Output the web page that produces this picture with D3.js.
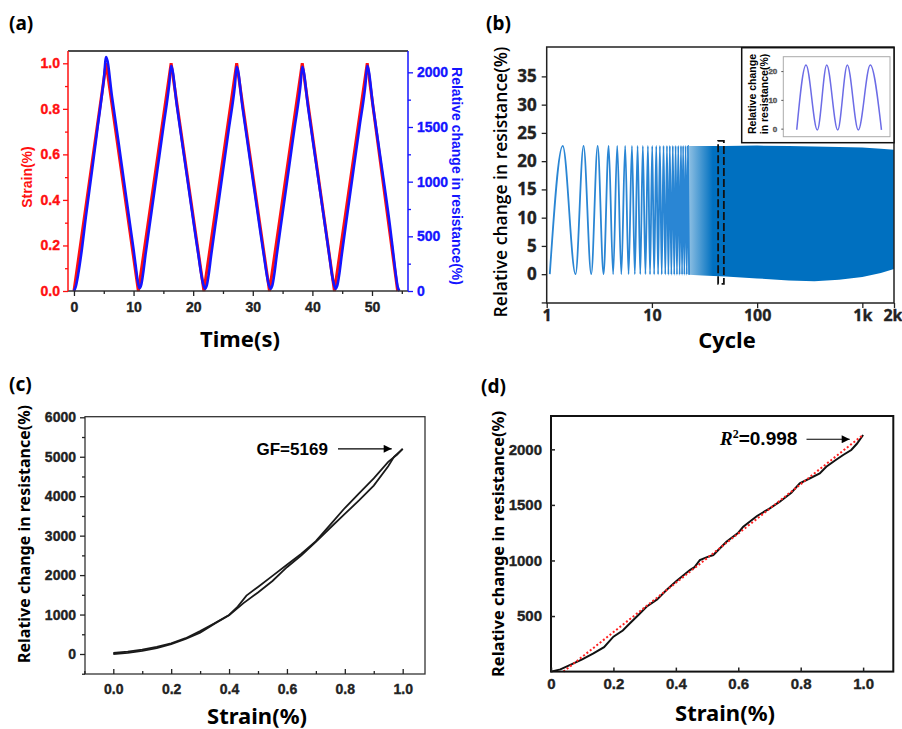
<!DOCTYPE html>
<html>
<head>
<meta charset="utf-8">
<script src="https://cdn.jsdelivr.net/npm/d3@7"></script>
<style>
body { margin: 0; background: #fff; }
svg { display: block; }
</style>
</head>
<body>
<svg id="fig"></svg>
<script>
// (a) strain and resistance over time
const strainTime = [0, 5.4, 10.8, 16.3, 21.8, 27.3, 32.8, 38.3, 43.7, 49.2, 54.3];
const strainVal  = [0, 1, 0, 1, 0, 1, 0, 1, 0, 1, 0];
const resTime = [0, 0.3, 0.7, 1.2, 2, 3, 4, 5, 5.4,
  6.4, 7.4, 8.4, 9.4, 10.0, 10.4, 10.7, 11.0,
  11.3, 11.6, 12.0, 13.0, 14.0, 15.0, 16.0, 16.3,
  17.3, 18.3, 19.3, 20.3, 20.9, 21.3, 21.65, 22.0,
  22.3, 22.6, 23.0, 24.0, 25.0, 26.0, 27.0, 27.3,
  28.3, 29.3, 30.3, 31.3, 31.9, 32.3, 32.65, 33.0,
  33.3, 33.6, 34.0, 35.0, 36.0, 37.0, 38.0, 38.3,
  39.3, 40.3, 41.3, 42.3, 42.9, 43.25, 43.6, 43.9,
  44.2, 44.5, 44.9, 45.9, 46.9, 47.9, 48.9, 49.2,
  50.2, 51.2, 52.2, 53.0, 53.6, 54.0, 54.3, 54.6];
const resVal = [0, 40, 150, 330, 680, 1090, 1510, 1930, 2140,
  1770, 1390, 1000, 610, 380, 210, 90, 25,
  60, 160, 330, 720, 1110, 1500, 1900, 2060,
  1680, 1300, 920, 540, 320, 170, 70, 20,
  55, 150, 320, 710, 1100, 1490, 1880, 2050,
  1670, 1290, 910, 530, 310, 165, 65, 20,
  55, 150, 320, 710, 1100, 1490, 1880, 2050,
  1670, 1290, 910, 530, 300, 160, 65, 20,
  55, 150, 320, 720, 1110, 1500, 1890, 2060,
  1680, 1300, 920, 600, 330, 150, 40, 0];
const timeTicks = [0, 10, 20, 30, 40, 50];
const strainTicks = [0, 0.2, 0.4, 0.6, 0.8, 1.0];
const resTicksA = [0, 500, 1000, 1500, 2000];

// (b) cycling test, log cycle axis
const cycleX = [1.07, 1.42, 1.88, 2.24, 2.65, 3.05, 3.47, 3.88, 4.28, 4.68, 5.12, 5.57, 6.0, 6.46,
  6.88, 7.31, 7.75, 8.2, 8.68, 9.16, 9.6, 10.07, 10.5, 11.0, 11.45, 11.9, 12.4, 12.9, 13.4, 13.9,
  14.35, 14.8, 15.3, 15.8, 16.3, 16.8, 17.3, 17.8, 18.35, 18.9, 19.35, 19.8, 20.35, 20.9, 21.45, 22.0, 22.55];
const cycleY = [0, 22.7, 0, 22.7, 0, 22.7, 0, 22.7, 0, 22.7, 0, 22.7, 0, 22.7,
  0, 22.7, 0, 22.7, 0, 22.7, -0.05, 22.7, -0.05, 22.7, -0.05, 22.7, -0.05, 22.7, -0.05, 22.7,
  -0.1, 22.7, -0.1, 22.7, -0.1, 22.7, -0.1, 22.7, -0.1, 22.7, -0.1, 22.7, -0.1, 22.7, -0.1, 22.7, -0.1];
const bandCycle  = [22.55, 30, 50, 100, 200, 350, 600, 1000, 1500, 2000];
const bandTop    = [22.7, 22.7, 22.7, 22.75, 22.7, 22.6, 22.5, 22.4, 22.2, 22.0];
const bandBottom = [-0.1, -0.25, -0.4, -0.75, -1.1, -1.25, -1.0, -0.5, 0.2, 0.9];
const cycleTicks = [1, 10, 100, 1000, 2000];
const cycleTickLabels = ['1', '10', '100', '1k', '2k'];
const resTicksB = [-5, 0, 5, 10, 15, 20, 25, 30, 35];
const zoomBox = { x0: 42.6, x1: 48.3, y0: -1.7, y1: 23.6 };
// inset (zoomed cycles)
const insetX = [12.6, 21.3, 31.9, 40.7, 51.0, 60.0, 70.3, 81.5, 92.0];
const insetY = [-0.4, 22.1, -0.5, 22.1, -0.5, 22.1, -0.5, 22.1, -0.4];
const insetTicks = [0, 10, 20];

// (c) hysteresis loop
const loadStrain = [0, 0.05, 0.1, 0.15, 0.2, 0.25, 0.3, 0.35, 0.4, 0.43, 0.46, 0.5, 0.55, 0.6, 0.65, 0.7, 0.75, 0.8, 0.85, 0.9, 0.95, 0.98, 1.0];
const loadRes    = [30, 60, 110, 180, 270, 400, 580, 780, 990, 1200, 1480, 1700, 1980, 2260, 2540, 2860, 3280, 3700, 4080, 4450, 4870, 5050, 5200];
const unloadStrain = [1.0, 0.97, 0.95, 0.9, 0.85, 0.8, 0.75, 0.7, 0.65, 0.6, 0.55, 0.5, 0.45, 0.4, 0.35, 0.3, 0.25, 0.2, 0.15, 0.1, 0.05, 0];
const unloadRes    = [5200, 5000, 4760, 4270, 3900, 3550, 3200, 2840, 2500, 2200, 1850, 1560, 1290, 980, 770, 540, 380, 250, 150, 80, 30, 0];
const strainTicksC = [0, 0.2, 0.4, 0.6, 0.8, 1.0];
const resTicksC = [0, 1000, 2000, 3000, 4000, 5000, 6000];

// (d) linear fit
const strainD = [0, 0.03, 0.06, 0.1, 0.136, 0.17, 0.2, 0.23, 0.253, 0.28, 0.306, 0.34, 0.37, 0.4, 0.445, 0.46, 0.477, 0.5, 0.52, 0.562, 0.6, 0.616, 0.66, 0.701, 0.733, 0.77, 0.797, 0.83, 0.861, 0.882, 0.91, 0.936, 0.962, 0.98, 1.0];
const resD    = [0, 20, 59, 110, 165, 220, 314, 370, 435, 510, 584, 650, 734, 810, 914, 940, 1004, 1030, 1049, 1169, 1250, 1304, 1400, 1469, 1529, 1610, 1695, 1740, 1784, 1844, 1900, 1949, 1994, 2050, 2129];
const fitStrain = [0.04, 1.0];
const fitRes    = [0, 2130];
const strainTicksD = [0, 0.2, 0.4, 0.6, 0.8, 1.0];
const resTicksD = [500, 1000, 1500, 2000];

const SANS = '"Liberation Sans", Arial, sans-serif';
const TITLE = '"Noto Sans", "Open Sans", sans-serif';
const OPEN = '"Open Sans", "Noto Sans", sans-serif';

const svg = d3.select('#fig')
  .attr('width', 902)
  .attr('height', 729)
  .style('background', '#fff');

svg.append('defs').append('marker')
  .attr('id', 'arrow')
  .attr('viewBox', '0 0 10 10')
  .attr('refX', 10).attr('refY', 5)
  .attr('markerWidth', 9).attr('markerHeight', 8)
  .attr('markerUnits', 'userSpaceOnUse')
  .attr('orient', 'auto')
  .append('path')
  .attr('d', 'M0,0 L10,5 L0,10 Z')
  .attr('fill', '#000');

function styleAxis(g, color, size, family, weight, lw) {
  g.select('.domain').remove();
  g.selectAll('line').attr('stroke', color).attr('stroke-width', lw || 1.3);
  g.selectAll('text')
    .attr('fill', color)
    .attr('stroke', color)
    .attr('stroke-width', 0.35)
    .style('font-family', family)
    .style('font-size', size + 'px')
    .style('font-weight', weight);
}

function panelLabel(txt, x, y) {
  svg.append('text').attr('x', x).attr('y', y)
    .style('font-family', TITLE).style('font-size', '19px').style('font-weight', 'bold')
    .text(txt);
}

function minor(ticks, step) {
  const out = [];
  for (let i = 0; i < ticks.length - 1; i++) out.push(ticks[i] + step);
  return out;
}

// ---------------- (a) ----------------
{
  const x = d3.scaleLinear().domain([-1, 56.04]).range([68, 408]);
  const yL = d3.scaleLinear().domain([0, 1.054]).range([291, 51]);
  const yR = d3.scaleLinear().domain([0, 2195]).range([291, 51]);
  const g = svg.append('g');

  g.append('path')
    .datum(strainTime.map((t, i) => [t, strainVal[i]]))
    .attr('fill', 'none').attr('stroke', '#ff1010').attr('stroke-width', 3)
    .attr('d', d3.line().x(d => x(d[0])).y(d => yL(d[1])));
  g.append('path')
    .datum(resTime.map((t, i) => [t, resVal[i]]))
    .attr('fill', 'none').attr('stroke', '#1414ff').attr('stroke-width', 2.6)
    .attr('d', d3.line().curve(d3.curveMonotoneX).x(d => x(d[0])).y(d => yR(d[1])));

  // frame lines
  g.append('line').attr('x1', 68).attr('x2', 408).attr('y1', 51).attr('y2', 51).attr('stroke', '#111').attr('stroke-width', 1.5);
  g.append('line').attr('x1', 68).attr('x2', 408).attr('y1', 291).attr('y2', 291).attr('stroke', '#333').attr('stroke-width', 1.5);
  g.append('line').attr('x1', 68).attr('x2', 68).attr('y1', 51).attr('y2', 291).attr('stroke', '#ff1010').attr('stroke-width', 1.5);
  g.append('line').attr('x1', 408).attr('x2', 408).attr('y1', 51).attr('y2', 291).attr('stroke', '#1414ff').attr('stroke-width', 1.5);

  const bx = g.append('g').attr('transform', 'translate(0,291)')
    .call(d3.axisBottom(x).tickValues(timeTicks).tickSize(5).tickPadding(6).tickFormat(d3.format('d')));
  styleAxis(bx, '#222', 14, SANS, 'bold');
  const bxm = g.append('g').attr('transform', 'translate(0,291)')
    .call(d3.axisBottom(x).tickValues(minor(timeTicks.concat([60]), 5).filter(d => d < 56)).tickSize(3).tickFormat(''));
  styleAxis(bxm, '#222', 14, SANS, 'bold');

  const ly = g.append('g').attr('transform', 'translate(68,0)')
    .call(d3.axisLeft(yL).tickValues(strainTicks).tickSize(5).tickPadding(3).tickFormat(d3.format('.1f')));
  styleAxis(ly, '#ff1010', 14, SANS, 'bold');
  const lym = g.append('g').attr('transform', 'translate(68,0)')
    .call(d3.axisLeft(yL).tickValues(minor(strainTicks, 0.1)).tickSize(3).tickFormat(''));
  styleAxis(lym, '#ff1010', 14, SANS, 'bold');

  const ry = g.append('g').attr('transform', 'translate(408,0)')
    .call(d3.axisRight(yR).tickValues(resTicksA).tickSize(5).tickPadding(4).tickFormat(d3.format('d')));
  styleAxis(ry, '#1414ff', 14, SANS, 'bold');
  const rym = g.append('g').attr('transform', 'translate(408,0)')
    .call(d3.axisRight(yR).tickValues(minor(resTicksA, 250)).tickSize(3).tickFormat(''));
  styleAxis(rym, '#1414ff', 14, SANS, 'bold');

  g.append('text').attr('transform', 'translate(32,177) rotate(-90)')
    .attr('text-anchor', 'middle')
    .style('font-family', SANS).style('font-size', '14px').style('font-weight', 'bold')
    .attr('fill', '#ff1010').text('Strain(%)');
  g.append('text').attr('transform', 'translate(452,176) rotate(90)')
    .attr('text-anchor', 'middle')
    .style('font-family', SANS).style('font-size', '14px').style('font-weight', 'bold')
    .attr('fill', '#1414ff').text('Relative change in resistance(%)');
  g.append('text').attr('x', 240).attr('y', 347).attr('text-anchor', 'middle')
    .style('font-family', TITLE).style('font-size', '22px').style('font-weight', 'bold')
    .text('Time(s)');
  panelLabel('(a)', 9, 30);
}

// ---------------- (b) ----------------
{
  const x = d3.scaleLog().domain([1, 2000]).range([546.7, 894]);
  const y = d3.scaleLinear().domain([-5.1, 40.2]).range([303, 47]);
  const g = svg.append('g');

  const grad = svg.select('defs').append('linearGradient')
    .attr('id', 'bandFade').attr('gradientUnits', 'userSpaceOnUse')
    .attr('x1', x(22.5)).attr('x2', x(38)).attr('y1', 0).attr('y2', 0);
  grad.append('stop').attr('offset', 0).attr('stop-color', '#0070c0').attr('stop-opacity', 0.45);
  grad.append('stop').attr('offset', 1).attr('stop-color', '#0070c0').attr('stop-opacity', 1);

  g.append('path')
    .datum(bandCycle.map((c, i) => [c, bandBottom[i], bandTop[i]]))
    .attr('fill', 'url(#bandFade)')
    .attr('d', d3.area().x(d => x(d[0])).y0(d => y(d[1])).y1(d => y(d[2])));

  g.append('path')
    .datum(cycleX.map((c, i) => [c, cycleY[i]]))
    .attr('fill', 'none').attr('stroke', '#2a86d4').attr('stroke-width', 1.8)
    .attr('d', d3.line().curve(d3.curveMonotoneX).x(d => x(d[0])).y(d => y(d[1])));

  g.append('rect')
    .attr('x', x(zoomBox.x0)).attr('y', y(zoomBox.y1))
    .attr('width', x(zoomBox.x1) - x(zoomBox.x0))
    .attr('height', y(zoomBox.y0) - y(zoomBox.y1))
    .attr('fill', 'none').attr('stroke', '#111').attr('stroke-width', 1.8)
    .attr('stroke-dasharray', '8,3');

  g.append('rect').attr('x', 546.7).attr('y', 47).attr('width', 894 - 546.7).attr('height', 256)
    .attr('fill', 'none').attr('stroke', '#222').attr('stroke-width', 1.5);

  const bx = g.append('g').attr('transform', 'translate(0,303)')
    .call(d3.axisBottom(x).tickValues(cycleTicks).tickSize(5).tickPadding(2)
      .tickFormat((d, i) => cycleTickLabels[i]));
  styleAxis(bx, '#222', 16, OPEN, 'bold');
  bx.selectAll('.tick').filter(d => d === 2000).select('text').attr('dx', -1.5);

  const ly = g.append('g').attr('transform', 'translate(546.7,0)')
    .call(d3.axisLeft(y).tickValues(resTicksB).tickSize(5).tickPadding(5)
      .tickFormat(d => d < 0 ? '' : d));
  styleAxis(ly, '#222', 17, OPEN, 'bold');

  g.append('text').attr('transform', 'translate(507,182) rotate(-90)')
    .attr('text-anchor', 'middle')
    .style('font-family', OPEN).style('font-size', '17.5px').style('font-weight', 600)
    .text('Relative change in resistance(%)');
  g.append('text').attr('x', 727).attr('y', 348).attr('text-anchor', 'middle')
    .style('font-family', OPEN).style('font-size', '22px').style('font-weight', 'bold')
    .text('Cycle');

  // inset
  const ix = d3.scaleLinear().domain([0, 100]).range([783.3, 890]);
  const iy = d3.scaleLinear().domain([-2.8, 25]).range([136.7, 56.7]);
  g.append('rect').attr('x', 741.7).attr('y', 47.7).attr('width', 894 - 741.7).attr('height', 95)
    .attr('fill', '#fff').attr('stroke', '#111').attr('stroke-width', 1.5);
  g.append('rect').attr('x', 783.3).attr('y', 56.7).attr('width', 890 - 783.3).attr('height', 80)
    .attr('fill', 'none').attr('stroke', '#aaa').attr('stroke-width', 1);
  g.append('path')
    .datum(insetX.map((v, i) => [v, insetY[i]]))
    .attr('fill', 'none').attr('stroke', '#6c6ce6').attr('stroke-width', 1.5)
    .attr('d', d3.line().curve(d3.curveMonotoneX).x(d => ix(d[0])).y(d => iy(d[1])));
  const iay = g.append('g').attr('transform', 'translate(783.3,0)')
    .call(d3.axisLeft(iy).tickValues(insetTicks).tickSize(2).tickPadding(4).tickFormat(d3.format('d')));
  styleAxis(iay, '#555', 8, SANS, 'bold', 1);
  const il = g.append('text').attr('transform', 'translate(755.5,94) rotate(-90)')
    .attr('text-anchor', 'middle')
    .style('font-family', SANS).style('font-size', '10.5px').style('font-weight', 'bold');
  il.append('tspan').attr('x', 0).attr('dy', 0).text('Relative change');
  il.append('tspan').attr('x', 0).attr('dy', '1.15em').text('in resistance(%)');

  panelLabel('(b)', 486, 30);
}

// ---------------- (c) ----------------
{
  const x = d3.scaleLinear().domain([-0.0978, 1.0771]).range([85, 425]);
  const y = d3.scaleLinear().domain([-507, 6015]).range([674, 416.7]);
  const g = svg.append('g');
  const line = d3.line().x(d => x(d[0])).y(d => y(d[1]));

  g.append('path').datum(loadStrain.map((s, i) => [s, loadRes[i]]))
    .attr('fill', 'none').attr('stroke', '#1a1a1a').attr('stroke-width', 1.8).attr('d', line);
  g.append('path').datum(unloadStrain.map((s, i) => [s, unloadRes[i]]))
    .attr('fill', 'none').attr('stroke', '#1a1a1a').attr('stroke-width', 1.8).attr('d', line);

  g.append('rect').attr('x', 85).attr('y', 416.7).attr('width', 340).attr('height', 674 - 416.7)
    .attr('fill', 'none').attr('stroke', '#333').attr('stroke-width', 1.3);

  const bx = g.append('g').attr('transform', 'translate(0,674)')
    .call(d3.axisBottom(x).tickValues(strainTicksC).tickSize(-5).tickPadding(10).tickFormat(d3.format('.1f')));
  styleAxis(bx, '#222', 14, SANS, 'bold');
  const bxm = g.append('g').attr('transform', 'translate(0,674)')
    .call(d3.axisBottom(x).tickValues([-0.1].concat(minor(strainTicksC, 0.1))).tickSize(-3).tickFormat(''));
  styleAxis(bxm, '#222', 14, SANS, 'bold');

  const ly = g.append('g').attr('transform', 'translate(85,0)')
    .call(d3.axisLeft(y).tickValues(resTicksC).tickSize(5).tickPadding(4).tickFormat(d3.format('d')));
  styleAxis(ly, '#222', 14, SANS, 'bold');
  const lym = g.append('g').attr('transform', 'translate(85,0)')
    .call(d3.axisLeft(y).tickValues([-500].concat(minor(resTicksC, 500))).tickSize(3).tickFormat(''));
  styleAxis(lym, '#222', 14, SANS, 'bold');

  g.append('text').attr('transform', 'translate(30,534) rotate(-90)')
    .attr('text-anchor', 'middle')
    .style('font-family', TITLE).style('font-size', '16px').style('font-weight', 'bold')
    .text('Relative change in resistance(%)');
  g.append('text').attr('x', 257).attr('y', 724).attr('text-anchor', 'middle')
    .style('font-family', TITLE).style('font-size', '22px').style('font-weight', 'bold')
    .text('Strain(%)');

  // GF annotation
  g.append('text').attr('x', 256.5).attr('y', y(5200) + 6)
    .style('font-family', SANS).style('font-size', '17px').style('font-weight', 'bold')
    .text('GF=5169');
  g.append('line').attr('x1', 338).attr('x2', x(0.962))
    .attr('y1', y(5200)).attr('y2', y(5200))
    .attr('stroke', '#000').attr('stroke-width', 1.2).attr('marker-end', 'url(#arrow)');

  panelLabel('(c)', 9, 391);
}

// ---------------- (d) ----------------
{
  const x = d3.scaleLinear().domain([0, 1.0967]).range([551, 893.3]);
  const y = d3.scaleLinear().domain([0, 2300]).range([671.6, 416]);
  const g = svg.append('g');
  const line = d3.line().x(d => x(d[0])).y(d => y(d[1]));

  g.append('path').datum(strainD.map((s, i) => [s, resD[i]]))
    .attr('fill', 'none').attr('stroke', '#111').attr('stroke-width', 2).attr('d', line);
  g.append('path').datum(fitStrain.map((s, i) => [s, fitRes[i]]))
    .attr('fill', 'none').attr('stroke', '#ff2020').attr('stroke-width', 2)
    .attr('stroke-dasharray', '2,2.2').attr('d', line);

  g.append('rect').attr('x', 551).attr('y', 416).attr('width', 893.3 - 551).attr('height', 671.6 - 416)
    .attr('fill', 'none').attr('stroke', '#111').attr('stroke-width', 2);

  const bx = g.append('g').attr('transform', 'translate(0,671.6)')
    .call(d3.axisBottom(x).tickValues(strainTicksD).tickSize(-4).tickPadding(7)
      .tickFormat(d => d === 0 ? '0' : d3.format('.1f')(d)));
  styleAxis(bx, '#222', 15, SANS, 'bold', 1.5);

  const ly = g.append('g').attr('transform', 'translate(551,0)')
    .call(d3.axisLeft(y).tickValues(resTicksD).tickSize(-4).tickPadding(9).tickFormat(d3.format('d')));
  styleAxis(ly, '#222', 15, SANS, 'bold', 1.5);

  g.append('text').attr('transform', 'translate(504,544) rotate(-90)')
    .attr('text-anchor', 'middle')
    .style('font-family', TITLE).style('font-size', '16.5px').style('font-weight', 'bold')
    .text('Relative change in resistance(%)');
  g.append('text').attr('x', 725).attr('y', 721).attr('text-anchor', 'middle')
    .style('font-family', TITLE).style('font-size', '22px').style('font-weight', 'bold')
    .text('Strain(%)');

  // R^2 annotation
  const ay = y(2091);
  const ann = g.append('text').attr('x', 720).attr('y', ay + 6)
    .style('font-size', '19px');
  ann.append('tspan').style('font-family', '"Liberation Serif", serif').style('font-style', 'italic')
    .style('font-weight', 'bold').text('R');
  ann.append('tspan').style('font-family', '"Liberation Serif", serif').style('font-size', '12px')
    .style('font-weight', 'bold').attr('dy', -7).text('2');
  ann.append('tspan').style('font-family', SANS).style('font-weight', 'bold')
    .attr('dy', 7).text('=0.998');
  g.append('line').attr('x1', 806.5).attr('x2', x(0.957))
    .attr('y1', ay).attr('y2', ay)
    .attr('stroke', '#000').attr('stroke-width', 1.2).attr('marker-end', 'url(#arrow)');

  panelLabel('(d)', 481, 393);
}
</script>
</body>
</html>
